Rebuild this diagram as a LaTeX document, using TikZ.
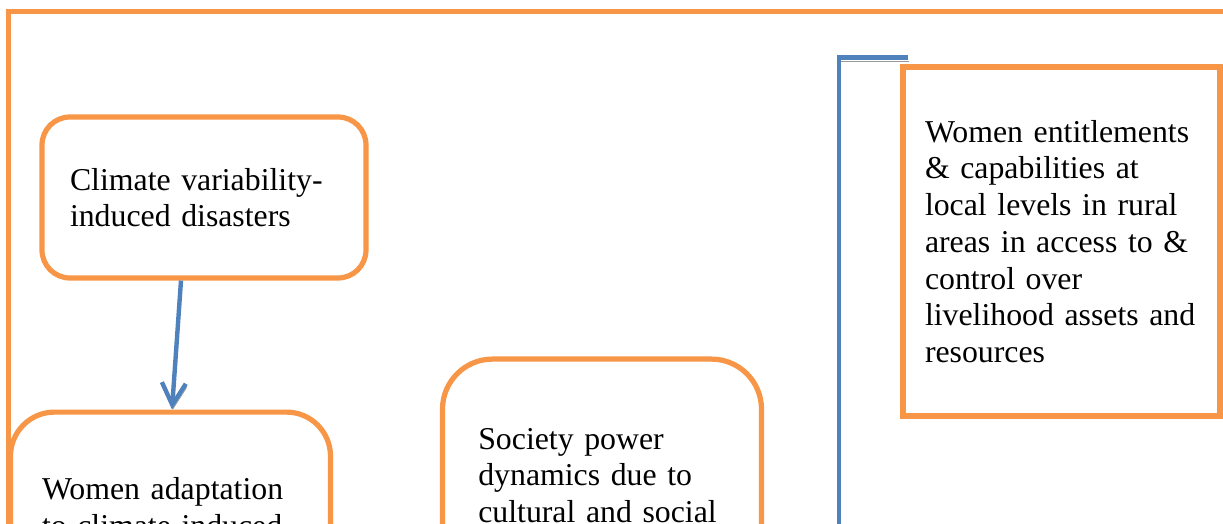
\documentclass[tikz,border=0pt]{standalone}
\usepackage{fontspec}
\setmainfont{Liberation Serif}
\usetikzlibrary{arrows.meta}
\definecolor{frameorange}{HTML}{F79646}
\definecolor{linkblue}{HTML}{4F81BD}
\tikzset{>=stealth,
	box/.style={draw=frameorange, line width=2.6pt, align=left, inner ysep=0pt, font=\fontsize{15.9pt}{18.35pt}\selectfont},
	rbox/.style={box, rounded corners=#1},
	lineshadow/.style={preaction={draw=black!40, transform canvas={shift={(0.4pt,-1.8pt)}}}},
	link/.style={draw=linkblue, line width=2.2pt, lineshadow}
}

\begin{document}
\begin{tikzpicture}[x=0.5pt, y=-0.5pt]
	\useasboundingbox (0,0) rectangle (1223,524);
	\clip (0,0) rectangle (1223,524);
	\draw [draw=frameorange, line width=2.6pt] (8.5,11.5) rectangle (1260,600);
	\node (clim) at (204,197.5) [rbox=14pt, text width=134pt, inner xsep=14pt, minimum height=80.5pt] {Climate variability-\\induced disasters};
	\node (adapt) at (170.5,409.5) [rbox=22pt, anchor=north, text width=128.5pt, inner xsep=15.75pt, minimum height=94.9pt] {Women adaptation\\to climate-induced};
	\node (soc) at (602,356.5) [rbox=25pt, anchor=north, text width=123.7pt, inner xsep=17.9pt, minimum height=116.3pt] {Society power\\dynamics due to\\cultural and social};
	\node (ent) at (1061.5,241.5) [box, text width=136.5pt, inner xsep=11pt, minimum height=174.5pt] {Women entitlements\\\& capabilities at\\local levels in rural\\areas in access to \&\\control over\\livelihood assets and\\resources};
	\coordinate (down) at (839,600);
	\draw [link, -{Straight Barb[length=11pt, width=12pt]}] ([xshift=-11.5pt]clim.south) -- ([xshift=0.75pt]adapt.north);
	\draw [link] ([shift={(8,-7)}]ent.north west) -| (down);
\end{tikzpicture}
\end{document}
